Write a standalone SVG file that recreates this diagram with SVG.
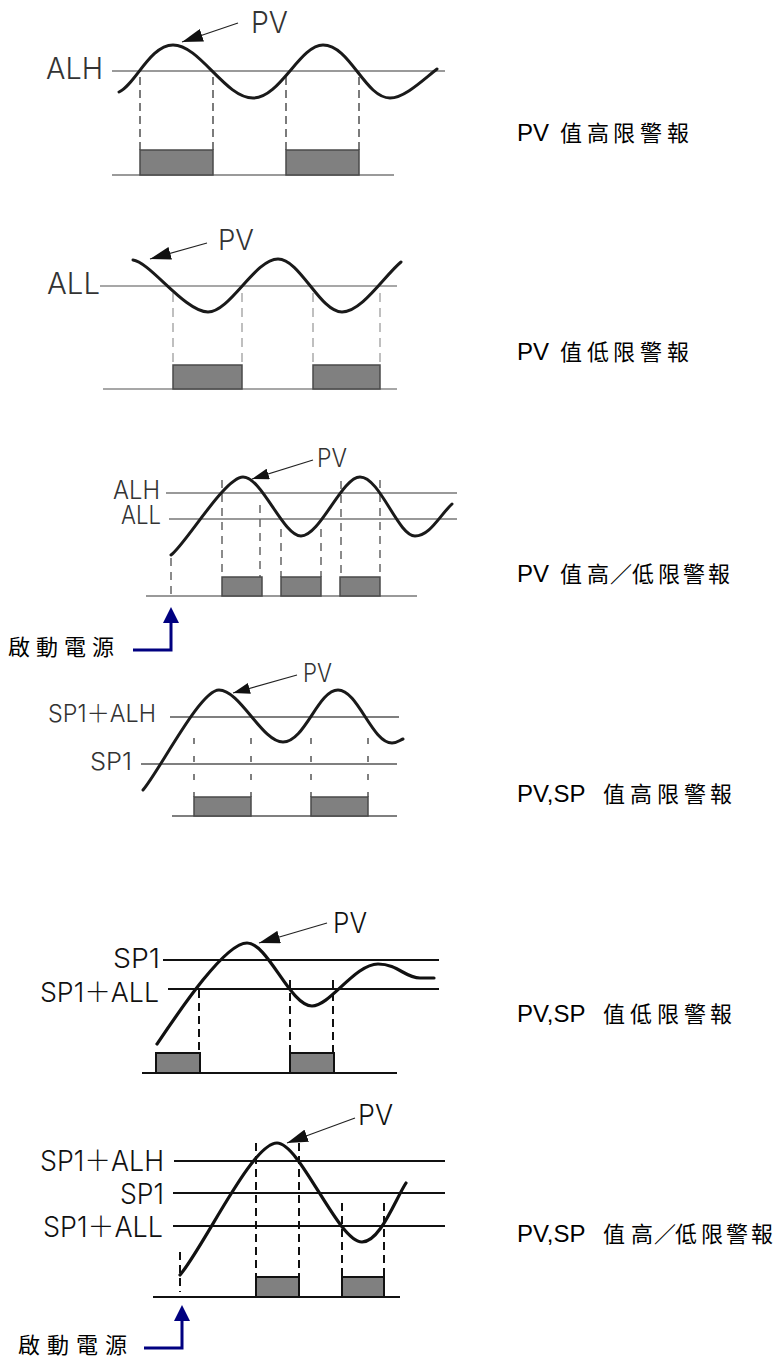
<svg xmlns="http://www.w3.org/2000/svg" width="775" height="1358" viewBox="0 0 775 1358">
<style>
.bg{fill:#fff}
.curve{fill:none;stroke:#1a1a1a;stroke-width:3;stroke-linejoin:round;stroke-linecap:round}
.curveB{fill:none;stroke:#111;stroke-width:3.2;stroke-linejoin:round;stroke-linecap:round}
.lvlA{stroke:#9a9a9a;stroke-width:2}
.lvlB{stroke:#8a8a8a;stroke-width:1.5}
.lvlC{stroke:#777;stroke-width:1.6}
.lvlD{stroke:#555;stroke-width:1.4}
.lvlE{stroke:#111;stroke-width:2}
.dA{stroke:#444;stroke-width:1.4;stroke-dasharray:8 5}
.dB{stroke:#aaa;stroke-width:1.5;stroke-dasharray:9 6}
.dC{stroke:#666;stroke-width:1.5;stroke-dasharray:8 6}
.dD{stroke:#555;stroke-width:1.5;stroke-dasharray:6 12}
.dE{stroke:#111;stroke-width:2;stroke-dasharray:8 5}
.outA{fill:#808080;stroke:#4a4a4a;stroke-width:1.5}
.outE{fill:#808080;stroke:#111;stroke-width:2}
.lbl{font-family:Inter,"Liberation Sans",Arial,"Noto Sans CJK TC",sans-serif;font-weight:300;fill:#333}
.lblE{font-family:Inter,"Liberation Sans",Arial,"Noto Sans CJK TC",sans-serif;font-weight:300;fill:#111}
.cap{font-family:"Liberation Sans",Arial,sans-serif;font-size:24px;fill:#000}
.cjk{font-family:"Noto Sans CJK TC","Noto Sans CJK SC",sans-serif;font-size:22px;fill:#000}
.pv{fill:none;stroke:#222;stroke-width:1.2}
.pwr{fill:none;stroke:#000080;stroke-width:3}
</style>
<defs>
<marker id="pvHead" viewBox="0 0 21 13" refX="21" refY="6.5" markerWidth="21" markerHeight="13" markerUnits="userSpaceOnUse" orient="auto"><path d="M0,0 L21,6.5 L0,13 Z" fill="#111"/></marker>
<marker id="pvHeadS" viewBox="0 0 17 11" refX="17" refY="5.5" markerWidth="17" markerHeight="11" markerUnits="userSpaceOnUse" orient="auto"><path d="M0,0 L17,5.5 L0,11 Z" fill="#111"/></marker>
<marker id="pwrHead" viewBox="0 0 16 16" refX="6" refY="8" markerWidth="16" markerHeight="16" markerUnits="userSpaceOnUse" orient="auto"><path d="M0,0 L16,8 L0,16 Z" fill="#000080"/></marker>
</defs>
<rect class="bg" x="0" y="0" width="775" height="1358"/>

<g id="panel-pv-high">
<line class="lvlA" x1="112" y1="71" x2="445" y2="71"/>
<line class="lvlA" x1="112" y1="175" x2="394" y2="175"/>
<line class="dA" x1="140" y1="77" x2="140" y2="150"/>
<line class="dA" x1="213" y1="77" x2="213" y2="150"/>
<line class="dA" x1="286" y1="77" x2="286" y2="150"/>
<line class="dA" x1="359" y1="77" x2="359" y2="150"/>
<rect class="outA" x="140" y="150" width="73" height="25"/>
<rect class="outA" x="286" y="150" width="73" height="25"/>
<path class="curve" d="M119,92 C135,85 150,45 173,45 C200,45 225,98 253,98 C280,98 300,45 323,45 C350,45 365,98 390,98 C405,98 425,78 437,69"/>
<text class="lbl" x="46" y="79" font-size="30" textLength="57" lengthAdjust="spacingAndGlyphs">ALH</text>
<text class="lbl" x="251" y="33" font-size="30" textLength="37" lengthAdjust="spacingAndGlyphs">PV</text>
</g>

<g id="panel-pv-low">
<line class="lvlB" x1="100" y1="286" x2="397" y2="286"/>
<line class="lvlB" x1="103" y1="389" x2="397" y2="389"/>
<line class="dB" x1="173" y1="293" x2="173" y2="365"/>
<line class="dB" x1="242" y1="293" x2="242" y2="365"/>
<line class="dB" x1="313" y1="293" x2="313" y2="365"/>
<line class="dB" x1="380" y1="293" x2="380" y2="365"/>
<rect class="outA" x="173" y="365" width="69" height="24"/>
<rect class="outA" x="313" y="365" width="67" height="24"/>
<path class="curve" d="M133,260 C150,262 185,312 208,312 C230,312 255,259 278,259 C300,259 320,312 342,312 C362,312 385,275 401,262"/>
<text class="lbl" x="47" y="294" font-size="30" textLength="53" lengthAdjust="spacingAndGlyphs">ALL</text>
<text class="lbl" x="218" y="250" font-size="29" textLength="36" lengthAdjust="spacingAndGlyphs">PV</text>
</g>

<g id="panel-pv-highlow">
<line class="lvlC" x1="166" y1="493" x2="457" y2="493"/>
<line class="lvlC" x1="169" y1="519" x2="457" y2="519"/>
<line class="lvlC" x1="146" y1="596" x2="417" y2="596"/>
<line class="dC" x1="171" y1="558" x2="171" y2="595" stroke-dasharray="7 9"/>
<line class="dC" x1="222" y1="480" x2="222" y2="577"/>
<line class="dC" x1="260" y1="505" x2="260" y2="577"/>
<line class="dC" x1="281" y1="529" x2="281" y2="577"/>
<line class="dC" x1="321" y1="529" x2="321" y2="577"/>
<line class="dC" x1="341" y1="481" x2="341" y2="577"/>
<line class="dC" x1="380" y1="480" x2="380" y2="577"/>
<rect class="outA" x="222" y="577" width="40" height="19"/>
<rect class="outA" x="281" y="577" width="40" height="19"/>
<rect class="outA" x="340" y="577" width="40" height="19"/>
<path class="curve" d="M171,555 C185,545 225,477 243,477 C262,477 283,536 301,536 C320,536 342,477 360,477 C380,477 398,536 415,536 C430,536 440,515 452,504"/>
<text class="lbl" x="113" y="499" font-size="25" textLength="47" lengthAdjust="spacingAndGlyphs">ALH</text>
<text class="lbl" x="121" y="524" font-size="25" textLength="40" lengthAdjust="spacingAndGlyphs">ALL</text>
<text class="lbl" x="317" y="467" font-size="25" textLength="30" lengthAdjust="spacingAndGlyphs">PV</text>
<text class="cjk" y="655" x="8 36 64 92">啟動電源</text>
</g>

<g id="panel-pvsp-high">
<line class="lvlD" x1="170" y1="717" x2="399" y2="717"/>
<line class="lvlD" x1="141" y1="764" x2="397" y2="764"/>
<line class="lvlD" x1="172" y1="816" x2="397" y2="816"/>
<line class="dD" x1="194" y1="738" x2="194" y2="797"/>
<line class="dD" x1="251" y1="738" x2="251" y2="797"/>
<line class="dD" x1="311" y1="738" x2="311" y2="797"/>
<line class="dD" x1="368" y1="738" x2="368" y2="797"/>
<rect class="outA" x="194" y="797" width="57" height="19"/>
<rect class="outA" x="311" y="797" width="57" height="19"/>
<path class="curve" d="M143,790 C160,770 200,690 219,690 C240,690 262,742 283,742 C305,742 318,690 338,690 C358,690 372,743 392,743 C397,743 400,740 403,739"/>
<text class="lbl" x="48" y="722" font-size="24" textLength="108" lengthAdjust="spacingAndGlyphs">SP1＋ALH</text>
<text class="lbl" x="90" y="770" font-size="24" textLength="42" lengthAdjust="spacingAndGlyphs">SP1</text>
<text class="lbl" x="303" y="682" font-size="25" textLength="29" lengthAdjust="spacingAndGlyphs">PV</text>
</g>

<g id="panel-pvsp-low">
<line class="lvlE" x1="163" y1="960" x2="439" y2="960"/>
<line class="lvlE" x1="168" y1="989" x2="439" y2="989"/>
<line class="lvlE" x1="142" y1="1073" x2="397" y2="1073"/>
<line class="dE" x1="199" y1="990" x2="199" y2="1053"/>
<line class="dE" x1="290" y1="980" x2="290" y2="1053"/>
<line class="dE" x1="333" y1="980" x2="333" y2="1053"/>
<rect class="outE" x="156" y="1053" width="44" height="20"/>
<rect class="outE" x="290" y="1053" width="44" height="20"/>
<path class="curveB" d="M157,1044 C180,1010 225,943 247,943 C268,943 290,1006 312,1006 C330,1006 355,964 378,964 C398,964 405,978 420,978 L434,978"/>
<text class="lblE" x="113" y="968" font-size="27" textLength="47" lengthAdjust="spacingAndGlyphs">SP1</text>
<text class="lblE" x="40" y="1002" font-size="27" textLength="119" lengthAdjust="spacingAndGlyphs">SP1＋ALL</text>
<text class="lblE" x="333" y="933" font-size="29" textLength="34" lengthAdjust="spacingAndGlyphs">PV</text>
</g>

<g id="panel-pvsp-highlow">
<line class="lvlE" x1="174" y1="1161" x2="445" y2="1161"/>
<line class="lvlE" x1="173" y1="1193" x2="445" y2="1193"/>
<line class="lvlE" x1="173" y1="1226" x2="445" y2="1226"/>
<line class="lvlE" x1="153" y1="1297" x2="400" y2="1297"/>
<line class="dE" x1="180" y1="1252" x2="180" y2="1292" stroke-dasharray="9 9"/>
<line class="dE" x1="256" y1="1143" x2="256" y2="1277"/>
<line class="dE" x1="299" y1="1143" x2="299" y2="1277"/>
<line class="dE" x1="342" y1="1203" x2="342" y2="1277"/>
<line class="dE" x1="384" y1="1203" x2="384" y2="1277"/>
<rect class="outE" x="256" y="1277" width="43" height="20"/>
<rect class="outE" x="342" y="1277" width="42" height="20"/>
<path class="curveB" d="M180,1275 C205,1245 252,1143 277,1143 C300,1143 338,1242 362,1242 C380,1242 395,1200 406,1183"/>
<text class="lblE" x="40" y="1171" font-size="28" textLength="124" lengthAdjust="spacingAndGlyphs">SP1＋ALH</text>
<text class="lblE" x="120" y="1204" font-size="28" textLength="44" lengthAdjust="spacingAndGlyphs">SP1</text>
<text class="lblE" x="43" y="1237" font-size="28" textLength="120" lengthAdjust="spacingAndGlyphs">SP1＋ALL</text>
<text class="lblE" x="358" y="1125" font-size="29" textLength="35" lengthAdjust="spacingAndGlyphs">PV</text>
<text class="cjk" y="1353" x="18 47 76 105">啟動電源</text>
</g>

<g id="connectors">
<path class="pv" d="M238,23 L182,42" marker-end="url(#pvHead)"/>
<path class="pv" d="M207,243 L150,259" marker-end="url(#pvHead)"/>
<path class="pv" d="M313,460 L252,479" marker-end="url(#pvHeadS)"/>
<path class="pv" d="M297,675 L233,693" marker-end="url(#pvHeadS)"/>
<path class="pv" d="M327,923 L259,943" marker-end="url(#pvHead)"/>
<path class="pv" d="M355,1118 L287,1143" marker-end="url(#pvHead)"/>
<path class="pwr" d="M133,650 H171 V617" marker-end="url(#pwrHead)"/>
<path class="pwr" d="M144,1348 H182 V1315" marker-end="url(#pwrHead)"/>
</g>

<g id="captions">
<text class="cap" x="517" y="141">PV</text>
<text class="cjk" y="141" x="560 587 613 640 667">值高限警報</text>
<text class="cap" x="517" y="360">PV</text>
<text class="cjk" y="360" x="560 587 613 640 667">值低限警報</text>
<text class="cap" x="517" y="582">PV</text>
<text class="cjk" y="582" x="560 587 610 632 658 683 708">值高／低限警報</text>
<text class="cap" x="517" y="802">PV,SP</text>
<text class="cjk" y="802" x="603 630 657 684 710">值高限警報</text>
<text class="cap" x="517" y="1022">PV,SP</text>
<text class="cjk" y="1022" x="603 630 657 684 710">值低限警報</text>
<text class="cap" x="517" y="1242">PV,SP</text>
<text class="cjk" y="1242" x="603 631 654 675 701 726 751">值高／低限警報</text>
</g>
</svg>
